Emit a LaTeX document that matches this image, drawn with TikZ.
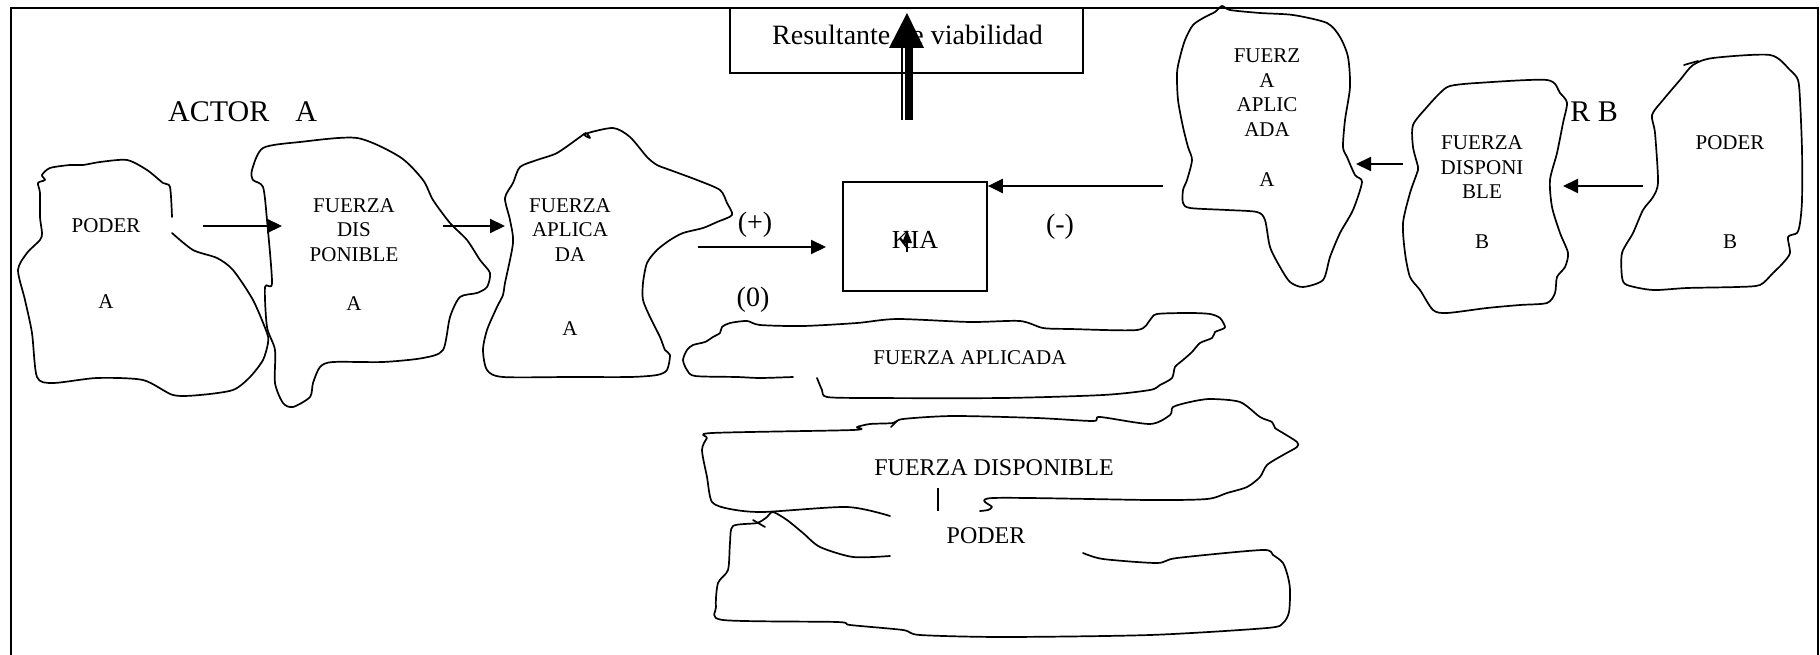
\documentclass[tikz,border=0pt]{standalone}
\usepackage{fontspec}
\setmainfont{Liberation Serif}
\usetikzlibrary{arrows.meta}

\begin{document}
\begin{tikzpicture}[x=1pt,y=-1pt,
  blob/.style={line width=1.7pt, line join=round, line cap=round},
  flow/.style={line width=2.2pt, -{Triangle[length=15pt,width=14pt]}},
  blobtext/.style={font=\fontsize{21}{24.5}\selectfont, align=center, anchor=base, inner sep=0pt},
  bigtext/.style={font=\fontsize{28}{33}\selectfont, inner sep=0pt},
  bottext/.style={font=\fontsize{24}{28}\selectfont, anchor=base, inner sep=0pt},
  box/.style={draw, line width=1.7pt, inner sep=0pt},
]
\useasboundingbox (0,0) rectangle (1820,655);

% outer frame
\draw[line width=1.6pt] (11,655) -- (11,8) -- (1818,8) -- (1818,655);

% titles
\node[bigtext, font=\fontsize{30}{34}\selectfont, anchor=base west] (actora) at (168,122) {ACTOR\hspace{26pt}A};
\node[bigtext, font=\fontsize{30}{34}\selectfont, anchor=base east] (actorb) at (1618,122) {R B};

% ---- actor A ----
% poder A (open where its label box cuts the outline)
\draw[blob] plot[smooth, tension=0.45] coordinates {
  (172,233) (193,250) (217,258) (233,270) (253,300) (267,333) (268,343) (263,360)
  (250,377) (233,390) (200,395) (173,395) (143,380) (97,378) (53,383) (37,377)
  (32,333) (25,300) (18,270) (27,253) (40,240) (42,233) (40,217) (40,193)
  (38,183) (45,180) (42,175) (50,168) (70,165) (83,165)
  (100,162) (127,160) (147,170) (163,183) (170,187) (172,217)};
% fuerza disponible A
\draw[blob] plot[smooth cycle, tension=0.45] coordinates {
  (263,148) (300,142) (357,138) (400,157) (423,180) (433,200) (450,223) (467,240)
  (480,260) (490,273) (487,287) (477,293) (460,297) (450,317) (443,350) (423,358)
  (383,362) (333,362) (320,367) (313,383) (310,397) (293,407) (283,403) (275,383)
  (275,350) (267,327) (265,287) (272,283) (267,220) (263,187) (253,180) (252,170)};
% fuerza aplicada A
\draw[blob] plot[smooth cycle, tension=0.45] coordinates {
  (520,167) (537,160) (557,153) (580,137) (586,133) (590,138) (585,134) (613,128)
  (630,137) (647,157) (657,165) (670,170) (697,180) (720,190) (727,203) (732,215)
  (717,222) (703,228) (683,233) (670,240) (657,250) (647,263) (643,283) (643,300)
  (650,317) (660,337) (665,350) (670,355) (667,370) (657,375) (630,377) (570,377)
  (503,377) (487,370) (483,350) (487,330) (497,307) (503,295) (505,283) (513,243)
  (510,220) (505,198) (513,183)};

\node[blobtext] (poderAt) at (106,233) {PODER};
\node[blobtext] (poderAl) at (106,308) {A};
\node[blobtext] (dispAt) at (354,261) {FUERZA\\DIS\\PONIBLE};
\node[blobtext] (dispAl) at (354,310) {A};
\node[blobtext] (aplAt) at (570,261) {FUERZA\\APLICA\\DA};
\node[blobtext] (aplAl) at (570,335) {A};

% ---- actor B ----
% fuerza aplicada B
\draw[blob] plot[smooth cycle, tension=0.45] coordinates {
  (1222,6) (1230,10) (1260,13) (1293,15) (1327,23) (1340,37) (1348,57) (1350,87)
  (1345,120) (1343,147) (1347,157) (1355,175) (1362,182) (1353,210) (1340,233)
  (1330,257) (1323,280) (1303,287) (1290,282) (1280,267) (1270,247) (1265,220)
  (1257,212) (1227,210) (1190,208) (1183,203) (1183,190) (1187,180) (1192,160)
  (1188,147) (1183,127) (1178,100) (1177,73) (1180,57) (1185,40) (1193,25)
  (1205,17) (1215,12)};
% fuerza disponible B
\draw[blob, fill=white] plot[smooth cycle, tension=0.45] coordinates {
  (1413,125) (1427,107) (1440,93) (1450,86) (1477,83) (1547,80) (1560,93) (1567,103)
  (1563,123) (1557,153) (1550,180) (1552,207) (1560,233) (1568,253) (1565,267)
  (1557,277) (1555,293) (1547,303) (1520,305) (1487,308) (1447,313) (1433,310)
  (1420,290) (1410,277) (1405,253) (1403,223) (1410,193) (1417,173) (1418,167)
  (1413,147)};
% poder B
\draw[blob] plot[smooth cycle, tension=0.45] coordinates {
  (1693,65) (1713,58) (1770,55) (1790,70) (1798,80) (1800,100) (1802,150) (1802,200)
  (1800,223) (1797,233) (1788,237) (1790,253) (1783,263) (1773,273) (1760,285)
  (1737,287) (1687,288) (1653,290) (1627,285) (1622,277) (1622,253) (1633,233)
  (1643,210) (1653,197) (1658,182) (1655,133) (1652,115) (1663,100) (1680,80)};
\draw[blob] (1684,65) -- (1698,61);

\node[blobtext] (aplBt) at (1267,136.5) {FUERZ\\A\\APLIC\\ADA};
\node[blobtext] (aplBl) at (1267,187) {A};
\node[blobtext] (dispBt) at (1482,199) {FUERZA\\DISPONI\\BLE};
\node[blobtext] (dispBl) at (1482,248) {B};
\node[blobtext] (poderBt) at (1730,150) {PODER};
\node[blobtext] (poderBl) at (1730,248) {B};

% ---- stacked totals ----
% fuerza aplicada
\draw[blob] plot[smooth, tension=0.45] coordinates {
  (817,378) (822,390) (827,397) (870,398) (1003,398) (1103,395) (1150,390) (1160,385)
  (1172,378) (1175,367) (1183,360) (1192,352) (1200,343) (1212,338) (1215,332)
  (1220,330) (1225,327) (1220,318) (1210,314) (1190,313) (1157,314) (1150,320)
  (1137,330) (1070,329) (1043,328) (1020,321) (970,322) (897,319) (857,323)
  (803,326) (760,325) (747,321) (730,323) (722,327) (720,333) (713,337) (705,342)
  (693,345) (687,350) (683,360) (687,370) (695,376) (737,377) (760,378) (793,377)};
% fuerza disponible
\draw[blob] plot[smooth, tension=0.45] coordinates {
  (890,516) (847,507) (763,512) (730,509) (712,502) (707,477) (702,450) (707,438)
  (712,433) (853,430) (857,427) (870,424) (893,423) (903,419) (953,416) (1037,418)
  (1093,421) (1100,417) (1150,424) (1170,415) (1173,407) (1190,402) (1210,399)
  (1240,402) (1260,417) (1272,422) (1275,428) (1283,433) (1297,442) (1297,447)
  (1283,455) (1267,465) (1260,477) (1247,487) (1227,493) (1207,499) (1150,500)
  (993,498) (992,507) (988,510) (980,511)};
\draw[blob] (891,427) -- (897,421);
% poder
\draw[blob] plot[smooth, tension=0.45] coordinates {
  (1083,553) (1103,559) (1157,563) (1177,558) (1262,550) (1273,555) (1283,563)
  (1288,577) (1290,590) (1289,612) (1283,623) (1267,628) (1150,635) (1003,637)
  (920,635) (903,630) (850,625) (837,622) (723,620) (716,607) (718,583) (728,570)
  (730,543) (733,526) (757,523) (767,517) (773,512) (787,520) (803,533) (820,547)
  (853,557) (890,556)};
\draw[blob] (753,520) -- (765,527);

\node[blobtext] (aplT) at (970,364) {FUERZA APLICADA};
\node[bottext] (dispT) at (994,475) {FUERZA DISPONIBLE};
\node[bottext] (poderT) at (986,543) {PODER};
\coordinate (tickTop) at (938,488);
\coordinate (tickBot) at (938,511);
\draw[line width=2.2pt] (tickTop) -- (tickBot);

% ---- balance box and result ----
\node[box, minimum width=144pt, minimum height=109pt] (kia) at (915,236.5) {};
\node[font=\fontsize{26}{30}\selectfont, anchor=base, inner sep=0pt] (kiatext) at (915,248) {KIA};
\coordinate (kiamark) at (907,243);
\fill ([xshift=-5pt]kiamark) -- (907,230) -- ([xshift=5pt]kiamark) -- cycle;
\draw[line width=1.5pt] (kiamark) -- (907,252);

\node[box, minimum width=353pt, minimum height=65pt] (res) at (906.5,40.5) {};
\node[bigtext, anchor=base west] (restext) at (772,45) {Resultante de viabilidad};

\coordinate (resfoot) at (907,120);
\coordinate (reshead) at (907,48);
\coordinate (restip) at (907,13);
\draw[line width=1.2pt] ([xshift=-5pt]resfoot) -- ([xshift=-5pt]reshead);
\fill ([xshift=-2pt]resfoot) rectangle ([xshift=6pt]reshead);
\fill ([xshift=-18pt]reshead) -- (restip) -- ([xshift=17pt]reshead) -- cycle;

% signs
\node[bigtext] (plus) at (755,225) {(+)};
\node[bigtext] (minus) at (1060,227) {(-)};
\node[bigtext] (zero) at (753,300) {(0)};

% ---- flows ----
\coordinate (pA) at (203,226);   \coordinate (dA) at (282,226);
\coordinate (dAo) at (443,226);  \coordinate (aA) at (505,226);
\coordinate (aAo) at (698,247);  \coordinate (kiaIn) at (826,247);
\coordinate (aBo) at (1163,186);
\coordinate (dBo) at (1403,164); \coordinate (aB) at (1356,164);
\coordinate (pBo) at (1643,186); \coordinate (dB) at (1563,186);

\draw[flow] (pA) -- (dA);
\draw[flow] (dAo) -- (aA);
\draw[flow] (aAo) -- (kiaIn);
\draw[flow] (aBo) -- (kia.north east |- aBo);
\draw[flow] (dBo) -- (aB);
\draw[flow] (pBo) -- (dB);
\end{tikzpicture}
\end{document}
